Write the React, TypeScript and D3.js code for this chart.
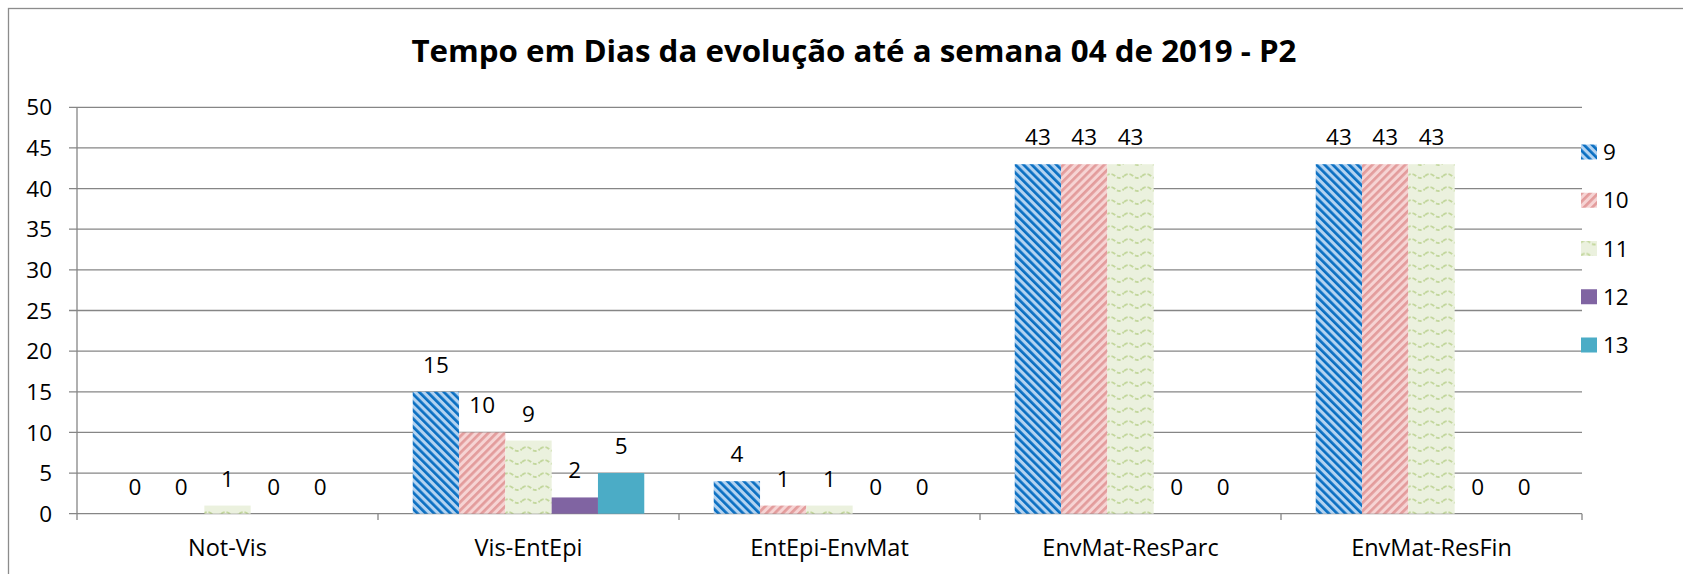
import * as d3 from "d3";

const title = "Tempo em Dias da evolução até a semana 04 de 2019 - P2";
const categories = ["Not-Vis", "Vis-EntEpi", "EntEpi-EnvMat", "EnvMat-ResParc", "EnvMat-ResFin"];
const seriesNames = ["9", "10", "11", "12", "13"];
const s9 = [0, 15, 4, 43, 43];
const s10 = [0, 10, 1, 43, 43];
const s11 = [1, 9, 1, 43, 43];
const s12 = [0, 2, 0, 0, 0];
const s13 = [0, 5, 0, 0, 0];
const seriesValues = [s9, s10, s11, s12, s13];
const yTicks = [0, 5, 10, 15, 20, 25, 30, 35, 40, 45, 50];

const fills = ["url(#pBlue)", "url(#pPink)", "url(#pGreen)", "#8064A2", "#4BACC6"];
const font = "'Open Sans', sans-serif";
const grid = "#868686";

export default function App() {
  const width = 1683;
  const height = 574;
  const left = 77;
  const right = 1582;
  const top = 107.3;
  const bottom = 513.7;

  const x = d3.scaleBand<string>().domain(categories).range([left, right]);
  const x1 = d3
    .scaleBand<string>()
    .domain(seriesNames)
    .range([0, x.bandwidth()])
    .paddingInner(0)
    .paddingOuter(0.75);
  const y = d3.scaleLinear().domain([0, 50]).range([bottom, top]);

  const catEdges = [...categories.map(c => x(c)!), right];
  const legendY = d3.scalePoint<string>().domain(seriesNames).range([152, 345]);

  return (
    <svg
      width={width}
      height={height}
      style={{ position: "absolute", left: 0, top: 0, background: "#fff" }}
    >
      <defs>
        <pattern id="pBlue" width="5.8" height="8" patternUnits="userSpaceOnUse" patternTransform="rotate(-45)">
          <rect width="5.8" height="8" fill="#B3D3F1" />
          <rect width="2.7" height="8" fill="#0A6FC2" />
        </pattern>
        <pattern id="pPink" width="5.8" height="8" patternUnits="userSpaceOnUse" patternTransform="rotate(45)">
          <rect width="5.8" height="8" fill="#F6D4D4" />
          <rect width="2.7" height="8" fill="#E39C9C" />
        </pattern>
        <pattern id="pGreen" width="18" height="13" patternUnits="userSpaceOnUse">
          <rect width="18" height="13" fill="#EBF1DE" />
          <path d="M0,7 Q4.5,3 9,7 T18,7" fill="none" stroke="#C3D79D" strokeWidth="1.9" strokeDasharray="4,2" />
        </pattern>
      </defs>

      {/* chart frame, right and bottom edges are outside the view */}
      <rect x={8.5} y={8.5} width={1700} height={600} fill="none" stroke="#8c8c8c" strokeWidth={1.3} />

      <text
        x={854}
        y={61.5}
        textAnchor="middle"
        fontFamily={font}
        fontWeight="bold"
        fontSize={29.5}
        textLength={885}
        lengthAdjust="spacingAndGlyphs"
        fill="#000"
      >
        {title}
      </text>

      {/* gridlines and y ticks */}
      {yTicks.map(t => (
        <g key={t}>
          <line x1={69} x2={right} y1={y(t)} y2={y(t)} stroke={grid} strokeWidth={1.3} />
          <text
            x={52}
            y={y(t)}
            dy="0.36em"
            textAnchor="end"
            fontFamily={font}
            fontSize={22.5}
            fill="#000"
          >
            {t}
          </text>
        </g>
      ))}
      <line x1={left} x2={left} y1={top} y2={520} stroke={grid} strokeWidth={1.3} />
      {catEdges.slice(1).map((e, i) => (
        <line key={i} x1={e} x2={e} y1={bottom} y2={520} stroke={grid} strokeWidth={1.3} />
      ))}

      {/* bars */}
      {categories.map((c, ci) => (
        <g key={c} transform={`translate(${x(c)},0)`}>
          {seriesNames.map((s, si) => {
            const v = seriesValues[si][ci];
            const bx = x1(s)!;
            return (
              <g key={s}>
                {v > 0 && (
                  <rect
                    x={bx}
                    y={y(v)}
                    width={x1.bandwidth()}
                    height={bottom - y(v)}
                    fill={fills[si]}
                  />
                )}
                <text
                  x={bx + x1.bandwidth() / 2}
                  y={y(v) - 19}
                  textAnchor="middle"
                  fontFamily={font}
                  fontSize={22.5}
                  fill="#000"
                >
                  {v}
                </text>
              </g>
            );
          })}
          <text
            x={x.bandwidth() / 2}
            y={556}
            textAnchor="middle"
            fontFamily={font}
            fontSize={23.5}
            fill="#000"
          >
            {c}
          </text>
        </g>
      ))}

      {/* legend */}
      {seriesNames.map((s, si) => (
        <g key={s} transform={`translate(1581,${legendY(s)})`}>
          <rect x={0} y={-7.5} width={16} height={15} fill={fills[si]} />
          <text x={22} y={0} dy="0.36em" fontFamily={font} fontSize={22.5} fill="#000">
            {s}
          </text>
        </g>
      ))}
    </svg>
  );
}
